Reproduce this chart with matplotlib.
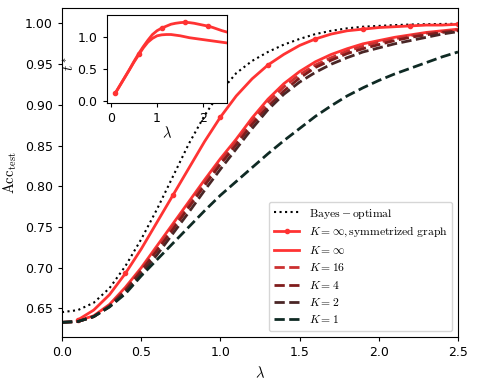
import numpy as np
import matplotlib
matplotlib.use("Agg")
import matplotlib.pyplot as plt

plt.rcParams['mathtext.fontset'] = 'cm'

# ---------------- data ----------------
lam_full = [0.0, 0.1, 0.2, 0.3, 0.4, 0.5, 0.6, 0.7, 0.8, 0.9, 1.0, 1.1, 1.2,
            1.3, 1.4, 1.5, 1.6, 1.7, 1.8, 1.9, 2.0, 2.1, 2.2, 2.3, 2.4, 2.5]
lam_red = lam_full[1:]

acc_bayes = [0.6455, 0.648, 0.657, 0.675, 0.702, 0.735, 0.772, 0.812, 0.852, 0.887,
             0.916, 0.939, 0.954, 0.965, 0.974, 0.981, 0.987, 0.991, 0.994, 0.996,
             0.997, 0.998, 0.9987, 0.9991, 0.9994, 0.9996]
acc_sym = [0.636, 0.648, 0.667, 0.693, 0.723, 0.756, 0.789, 0.822, 0.855, 0.885,
           0.911, 0.932, 0.949, 0.962, 0.973, 0.981, 0.987, 0.991, 0.993, 0.995,
           0.996, 0.997, 0.998, 0.998, 0.999]
acc_kinf = [0.635, 0.641, 0.655, 0.676, 0.700, 0.727, 0.754, 0.781, 0.808, 0.834,
            0.858, 0.884, 0.907, 0.926, 0.941, 0.953, 0.962, 0.969, 0.975, 0.979,
            0.983, 0.986, 0.989, 0.991, 0.993]
acc_k16 = [0.633, 0.634, 0.640, 0.654, 0.674, 0.698, 0.724, 0.751, 0.778, 0.805,
           0.831, 0.855, 0.880, 0.903, 0.922, 0.937, 0.949, 0.958, 0.966, 0.972,
           0.977, 0.981, 0.985, 0.988, 0.990, 0.992]
acc_k4 = [0.633, 0.634, 0.640, 0.653, 0.672, 0.696, 0.721, 0.747, 0.774, 0.801,
          0.827, 0.851, 0.876, 0.898, 0.917, 0.933, 0.946, 0.955, 0.963, 0.969,
          0.974, 0.979, 0.983, 0.986, 0.989, 0.991]
acc_k2 = [0.633, 0.634, 0.640, 0.652, 0.670, 0.692, 0.716, 0.742, 0.768, 0.795,
          0.821, 0.846, 0.871, 0.894, 0.913, 0.928, 0.940, 0.950, 0.958, 0.965,
          0.970, 0.975, 0.979, 0.983, 0.987, 0.990]
acc_k1 = [0.633, 0.634, 0.640, 0.652, 0.668, 0.690, 0.710, 0.730, 0.750, 0.770,
          0.789, 0.806, 0.823, 0.840, 0.856, 0.871, 0.886, 0.899, 0.911, 0.921,
          0.930, 0.938, 0.945, 0.952, 0.959, 0.965]

t_sym = [0.13, 0.25, 0.37, 0.49, 0.62, 0.74, 0.85, 0.95, 1.04, 1.10, 1.14, 1.17,
         1.20, 1.215, 1.225, 1.23, 1.225, 1.215, 1.20, 1.185, 1.17, 1.15, 1.125,
         1.10, 1.08]
t_kinf = [0.13, 0.25, 0.37, 0.49, 0.61, 0.72, 0.83, 0.92, 0.98, 1.02, 1.035, 1.04,
          1.04, 1.03, 1.02, 1.005, 0.99, 0.98, 0.97, 0.96, 0.95, 0.94, 0.93, 0.92,
          0.91]

labels = [r"$\mathrm{Bayes-optimal}$",
          r"$K=\infty, \mathrm{symmetrized\ graph}$",
          r"$K=\infty$", r"$K=16$", r"$K=4$", r"$K=2$", r"$K=1$"]

red = "#ff3333"
c16 = "#cc3030"
c4 = "#801c1c"
c2 = "#4a2626"
c1 = "#0f2a24"

# ---------------- figure ----------------
fig = plt.figure(figsize=(4.78, 3.84), dpi=100)
ax = fig.add_axes([0.1297, 0.1224, 0.8285, 0.8568])

ax.plot(lam_full, acc_bayes, ls=':', color='black', lw=1.5, label=labels[0])
ax.plot(lam_red, acc_sym, '-', color=red, lw=2, marker='o', ms=3,
        markevery=3, label=labels[1])
ax.plot(lam_red, acc_kinf, '-', color=red, lw=2, label=labels[2])
ax.plot(lam_full, acc_k16, '--', color=c16, lw=2, label=labels[3])
ax.plot(lam_full, acc_k4, '--', color=c4, lw=2, label=labels[4])
ax.plot(lam_full, acc_k2, '--', color=c2, lw=2, label=labels[5])
ax.plot(lam_full, acc_k1, '--', color=c1, lw=2, label=labels[6])

ax.set_xlim(0, 2.5)
ax.set_ylim(0.615, 1.019)
ax.set_xticks([0.0, 0.5, 1.0, 1.5, 2.0, 2.5])
ax.set_yticks([0.65, 0.70, 0.75, 0.80, 0.85, 0.90, 0.95, 1.00])
ax.tick_params(labelsize=9, length=3)
ax.set_xlabel(r"$\lambda$", fontsize=10.5)
ax.set_ylabel(r"$\mathrm{Acc}_{\mathrm{test}}$", fontsize=10.5, labelpad=4)
ax.legend(loc='lower right', fontsize=8.4, handlelength=2.2, labelspacing=0.38)

# inset
ins = fig.add_axes([0.223, 0.731, 0.251, 0.231])
ins.plot(lam_red, t_sym, '-', color=red, lw=2, marker='o', ms=3, markevery=5)
ins.plot(lam_red, t_kinf, '-', color=red, lw=2)
ins.set_xlim(-0.09, 2.5)
ins.set_ylim(-0.03, 1.35)
ins.set_xticks([0, 1, 2])
ins.set_yticks([0.0, 0.5, 1.0])
ins.tick_params(labelsize=9, length=3)
ins.set_xlabel(r"$\lambda$", fontsize=10.5, labelpad=0)
ins.set_ylabel(r"$t^*$", fontsize=10.5)
ins.yaxis.set_label_coords(-0.245, 0.45)

fig.savefig("out.png", dpi=100)
